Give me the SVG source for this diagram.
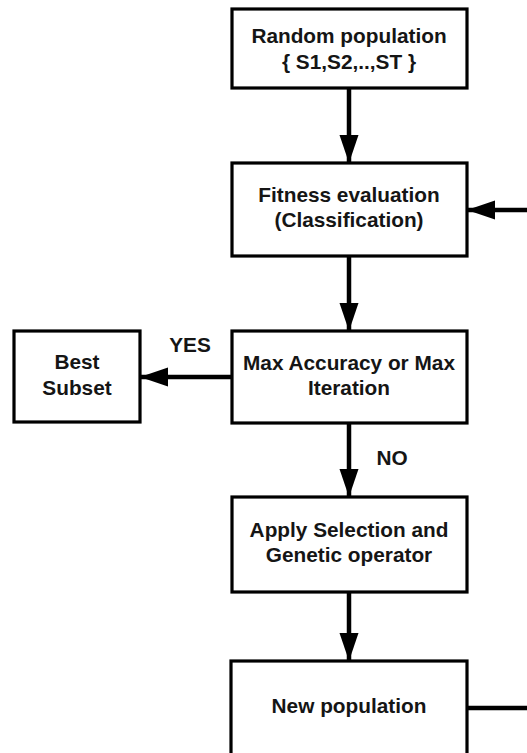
<svg xmlns="http://www.w3.org/2000/svg" width="527" height="753" viewBox="0 0 527 753">
<style>
.box{fill:#fff;stroke:#000;stroke-width:3.2}
.t{font-family:"Liberation Sans",Arial,sans-serif;font-weight:bold;font-size:20.8px;fill:#151515;text-anchor:middle}
.c{stroke:#000;stroke-width:4.5;fill:none}
</style>
<defs>
<marker id="ah" markerUnits="userSpaceOnUse" markerWidth="30" markerHeight="20" refX="28" refY="9.5" orient="auto">
<path d="M0,0 L28,9.5 L0,19 z" fill="#000"/>
</marker>
</defs>
<rect width="527" height="753" fill="#fff"/>
<g id="connectors">
<line class="c" x1="349" y1="88" x2="349" y2="163" marker-end="url(#ah)"/>
<line class="c" x1="349" y1="256" x2="349" y2="331" marker-end="url(#ah)"/>
<line class="c" x1="349" y1="423" x2="349" y2="497" marker-end="url(#ah)"/>
<line class="c" x1="349" y1="592" x2="349" y2="661" marker-end="url(#ah)"/>
<line class="c" x1="232" y1="377" x2="140" y2="377" marker-end="url(#ah)"/>
<polyline class="c" points="467,708 535,708 535,210 467,210" marker-end="url(#ah)"/>
<text class="t" x="190" y="352">YES</text>
<text class="t" x="392" y="465">NO</text>
</g>
<g id="n1">
<rect class="box" x="232" y="9" width="235" height="79"/>
<text class="t" x="349" y="43">Random population</text>
<text class="t" x="349" y="69">{ S1,S2,..,ST }</text>
</g>
<g id="n2">
<rect class="box" x="232" y="163" width="235" height="93"/>
<text class="t" x="349" y="202">Fitness evaluation</text>
<text class="t" x="349" y="227">(Classification)</text>
</g>
<g id="n3">
<rect class="box" x="232" y="331" width="235" height="92"/>
<text class="t" x="349" y="370">Max Accuracy or Max</text>
<text class="t" x="349" y="395">Iteration</text>
</g>
<g id="n_best">
<rect class="box" x="14" y="331" width="126" height="91"/>
<text class="t" x="77" y="369">Best</text>
<text class="t" x="77" y="395">Subset</text>
</g>
<g id="n4">
<rect class="box" x="232" y="497" width="235" height="95"/>
<text class="t" x="349" y="537">Apply Selection and</text>
<text class="t" x="349" y="562">Genetic operator</text>
</g>
<g id="n5">
<rect class="box" x="231" y="661" width="236" height="100"/>
<text class="t" x="349" y="713">New population</text>
</g>
</svg>
